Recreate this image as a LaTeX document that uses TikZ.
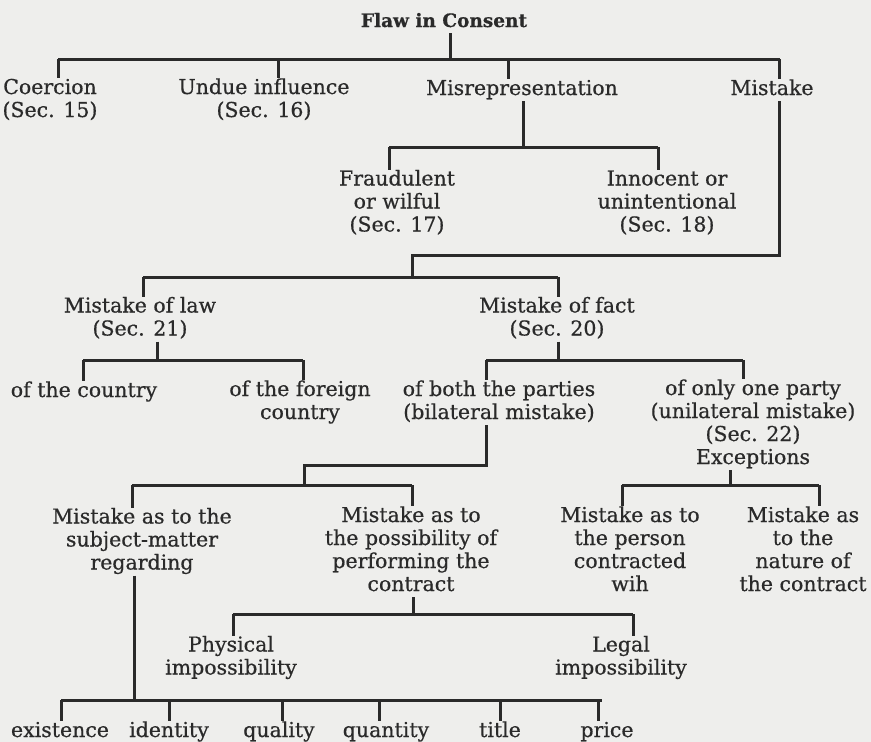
\documentclass[tikz,border=0pt]{standalone}
\usepackage{fontspec}
\setmainfont{DejaVu Serif}[FakeBold=0.6]
\definecolor{bgcol}{RGB}{238,238,236}
\definecolor{inkcol}{RGB}{42,42,42}
\newcommand{\lnstrut}{\rule[-6pt]{0pt}{22pt}}
\begin{document}
\begin{tikzpicture}[x=1pt,y=-1pt,
  conn/.style={line width=3pt, draw=inkcol},
  lbl/.style={font=\fontsize{20.5}{21.3}\selectfont, align=center, inner sep=0pt, outer sep=0pt, text=inkcol},
  ttl/.style={lbl, font=\fontsize{18.5}{21.3}\selectfont\bfseries}]
\fill[bgcol] (0,0) rectangle (871,742);
\useasboundingbox (0,0) rectangle (871,742);

% ---------- nodes ----------
\node[ttl] (title) at (444,22) {\lnstrut Flaw in Consent};
\node[lbl] (coercion) at (50,100.5) {\lnstrut Coercion\\\lnstrut (Sec. 15)};
\node[lbl] (undue) at (264,100.5) {\lnstrut Undue influence\\\lnstrut (Sec. 16)};
\node[lbl] (misrep) at (522,90) {\lnstrut Misrepresentation};
\node[lbl] (mistake) at (772,90) {\lnstrut Mistake};
\node[lbl] (fraud) at (397,203.5) {\lnstrut Fraudulent\\\lnstrut or wilful\\\lnstrut (Sec. 17)};
\node[lbl] (innocent) at (667,203.5) {\lnstrut Innocent or\\\lnstrut unintentional\\\lnstrut (Sec. 18)};
\node[lbl] (law) at (140,319) {\lnstrut Mistake of law\\\lnstrut (Sec. 21)};
\node[lbl] (fact) at (557,319) {\lnstrut Mistake of fact\\\lnstrut (Sec. 20)};
\node[lbl] (country) at (84,392) {\lnstrut of the country};
\node[lbl] (foreign) at (300,402.5) {\lnstrut of the foreign\\\lnstrut country};
\node[lbl] (bilateral) at (499,402.5) {\lnstrut of both the parties\\\lnstrut (bilateral mistake)};
\node[lbl] (unilateral) at (753,424.5) {\lnstrut of only one party\\\lnstrut (unilateral mistake)\\\lnstrut (Sec. 22)\\\lnstrut Exceptions};
\node[lbl] (subject) at (142,541.5) {\lnstrut Mistake as to the\\\lnstrut subject-matter\\\lnstrut regarding};
\node[lbl] (possibility) at (411,551.5) {\lnstrut Mistake as to\\\lnstrut the possibility of\\\lnstrut performing the\\\lnstrut contract};
\node[lbl] (person) at (630,551.5) {\lnstrut Mistake as to\\\lnstrut the person\\\lnstrut contracted\\\lnstrut wih};
\node[lbl] (nature) at (803,551.5) {\lnstrut Mistake as\\\lnstrut to the\\\lnstrut nature of\\\lnstrut the contract};
\node[lbl] (physical) at (231,658) {\lnstrut Physical\\\lnstrut impossibility};
\node[lbl] (legal) at (621,658) {\lnstrut Legal\\\lnstrut impossibility};
\node[lbl] (existence) at (60,732) {\lnstrut existence};
\node[lbl] (identity) at (169,732) {\lnstrut identity};
\node[lbl] (quality) at (279,732) {\lnstrut quality};
\node[lbl] (quantity) at (386,732) {\lnstrut quantity};
\node[lbl] (titlel) at (500,732) {\lnstrut title};
\node[lbl] (price) at (607,732) {\lnstrut price};

% ---------- junction coordinates ----------
\coordinate (b1M) at (450,59);
\coordinate (b1L) at (58,59);
\coordinate (b1R) at (780,59);
\coordinate (d1b) at (278,59);
\coordinate (d1c) at (508,59);
\coordinate (d1d) at (779,59);

\coordinate (b2M) at (523,147);
\coordinate (b2L) at (389,147);
\coordinate (b2R) at (658,147);

\coordinate (mk1) at (779,255);
\coordinate (mk2) at (412,255);
\coordinate (b3M) at (412,277);
\coordinate (b3L) at (143,277);
\coordinate (b3R) at (558,277);

\coordinate (b4M) at (157,360);
\coordinate (b4L) at (83,360);
\coordinate (b4R) at (303,360);

\coordinate (b5M) at (558,360);
\coordinate (b5L) at (486,360);
\coordinate (b5R) at (743,360);

\coordinate (k1) at (486,465);
\coordinate (k2) at (304,465);
\coordinate (b6M) at (304,485);
\coordinate (b6L) at (132,485);
\coordinate (b6R) at (412,485);

\coordinate (b7M) at (730,485);
\coordinate (b7L) at (622,485);
\coordinate (b7R) at (819,485);

\coordinate (b8M) at (413,614);
\coordinate (b8L) at (233,614);
\coordinate (b8R) at (633,614);

\coordinate (b9M) at (134,700);
\coordinate (b9L) at (61,700);
\coordinate (b9R) at (602,700);
\coordinate (e2) at (169,700);
\coordinate (e3) at (282,700);
\coordinate (e4) at (379,700);
\coordinate (e5) at (500,700);
\coordinate (e6) at (598,700);

% ---------- connectors ----------
% Flaw in Consent
\draw[conn] (b1M |- title.south) -- (b1M);
\draw[conn] (b1L) -- (b1R);
\draw[conn] (b1L) -- (b1L |- coercion.north);
\draw[conn] (d1b) -- (d1b |- undue.north);
\draw[conn] (d1c) -- (d1c |- misrep.north);
\draw[conn] (d1d) -- (d1d |- mistake.north);
% Misrepresentation
\draw[conn] (b2M |- misrep.south) -- (b2M);
\draw[conn] (b2L) -- (b2R);
\draw[conn] (b2L) -- (b2L |- fraud.north);
\draw[conn] (b2R) -- (b2R |- innocent.north);
% Mistake
\draw[conn] (mk1 |- mistake.south) -- (mk1) -- (mk2) -- (b3M);
\draw[conn] (b3L) -- (b3R);
\draw[conn] (b3L) -- (b3L |- law.north);
\draw[conn] (b3R) -- (b3R |- fact.north);
% Mistake of law
\draw[conn] (b4M |- law.south) -- (b4M);
\draw[conn] (b4L) -- (b4R);
\draw[conn] (b4L) -- (b4L |- country.north);
\draw[conn] (b4R) -- (b4R |- foreign.north);
% Mistake of fact
\draw[conn] (b5M |- fact.south) -- (b5M);
\draw[conn] (b5L) -- (b5R);
\draw[conn] (b5L) -- (b5L |- bilateral.north);
\draw[conn] (b5R) -- (b5R |- unilateral.north);
% bilateral mistake
\draw[conn] (k1 |- bilateral.south) -- (k1) -- (k2) -- (b6M);
\draw[conn] (b6L) -- (b6R);
\draw[conn] (b6L) -- (b6L |- subject.north);
\draw[conn] (b6R) -- (b6R |- possibility.north);
% Exceptions
\draw[conn] (b7M |- unilateral.south) -- (b7M);
\draw[conn] (b7L) -- (b7R);
\draw[conn] (b7L) -- (b7L |- person.north);
\draw[conn] (b7R) -- (b7R |- nature.north);
% possibility
\draw[conn] (b8M |- possibility.south) -- (b8M);
\draw[conn] (b8L) -- (b8R);
\draw[conn] (b8L) -- (b8L |- physical.north);
\draw[conn] (b8R) -- (b8R |- legal.north);
% subject-matter
\draw[conn] (b9M |- subject.south) -- (b9M);
\draw[conn] (b9L) -- (b9R);
\draw[conn] (b9L) -- (b9L |- existence.north);
\draw[conn] (e2) -- (e2 |- identity.north);
\draw[conn] (e3) -- (e3 |- quality.north);
\draw[conn] (e4) -- (e4 |- quantity.north);
\draw[conn] (e5) -- (e5 |- titlel.north);
\draw[conn] (e6) -- (e6 |- price.north);
\end{tikzpicture}
\end{document}
